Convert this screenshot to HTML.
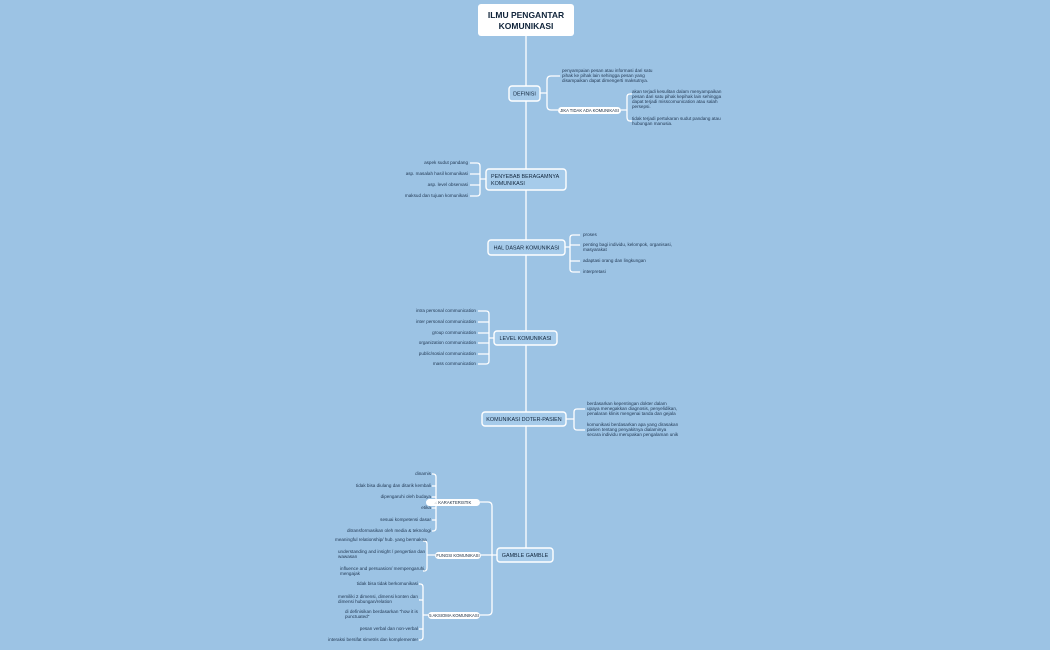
<!DOCTYPE html>
<html><head><meta charset="utf-8"><style>
html,body{margin:0;padding:0;background:#9cc3e4;}
svg{display:block;font-family:"Liberation Sans",sans-serif;}
.t{font-size:4.6px;fill:#1f3550;}
.n{font-size:5.4px;fill:#10243a;}
.p{font-size:4.2px;fill:#10243a;}
.l{fill:none;stroke:#fff;stroke-width:1.3;}
.box{fill:#a6cbea;stroke:#fff;stroke-width:1.4;}
</style></head><body>
<svg width="1050" height="650" viewBox="0 0 1050 650">
<path class="l" d="M526 36V548"/>
<rect x="478" y="4" width="96" height="32" rx="3" fill="#fff"/>
<text x="526" y="18" text-anchor="middle" font-size="8.5" font-weight="600" fill="#10243a">ILMU PENGANTAR</text>
<text x="526" y="29" text-anchor="middle" font-size="8.5" font-weight="600" fill="#10243a">KOMUNIKASI</text>

<path class="l" d="M540 93H547M547 93V80Q547 76 551 76H560M547 93V106Q547 110 551 110H558"/>
<rect class="box" x="509" y="86" width="31" height="15" rx="3"/>
<text class="n" x="524.5" y="95.5" text-anchor="middle">DEFINISI</text>
<text class="t" x="562" y="72">penyampaian pesan atau informasi dari satu</text>
<text class="t" x="562" y="77">pihak ke pihak lain sehingga pesan yang</text>
<text class="t" x="562" y="82">disampaikan dapat dimengerti maksutnya.</text>
<rect x="558" y="107" width="63" height="7" rx="3.5" fill="#fff"/>
<text class="p" x="589.5" y="112.2" text-anchor="middle">JIKA TIDAK ADA KOMUNIKASI</text>
<path class="l" d="M621 110H627M627 110V97Q627 94 630 94H632M627 110V117Q627 121 630 121H632"/>
<text class="t" x="632" y="93">akan terjadi kesulitan dalam menyampaikan</text>
<text class="t" x="632" y="98">pesan dari satu pihak kepihak lain sehingga</text>
<text class="t" x="632" y="103">dapat terjadi misscomunication atau salah</text>
<text class="t" x="632" y="108">persepsi.</text>
<text class="t" x="632" y="120">tidak terjadi pertukaran sudut pandang atau</text>
<text class="t" x="632" y="125">hubungan manusia.</text>

<path class="l" d="M486 179H480M480 179V166Q480 163 477 163H470M480 179V193Q480 196 477 196H470M470 174H480M470 185H480"/>
<rect class="box" x="486" y="169" width="80" height="21" rx="3"/>
<text class="n" x="491" y="178">PENYEBAB BERAGAMNYA</text>
<text class="n" x="491" y="185">KOMUNIKASI</text>
<text class="t" x="468" y="164" text-anchor="end">aspek sudut pandang</text>
<text class="t" x="468" y="175" text-anchor="end">asp. masalah hasil komunikasi</text>
<text class="t" x="468" y="186" text-anchor="end">asp. level observasi</text>
<text class="t" x="468" y="197" text-anchor="end">maksud dan tujuan komunikasi</text>

<path class="l" d="M565 247H570M570 247V238Q570 235 573 235H580M570 247V269Q570 272 573 272H580M570 245H580M570 261H580"/>
<rect class="box" x="488" y="240" width="77" height="15" rx="3"/>
<text class="n" x="526.5" y="249.5" text-anchor="middle">HAL DASAR KOMUNIKASI</text>
<text class="t" x="583" y="236">proses</text>
<text class="t" x="583" y="246">penting bagi individu, kelompok, organisasi,</text>
<text class="t" x="583" y="251">masyarakat</text>
<text class="t" x="583" y="262">adaptasi orang dan lingkungan</text>
<text class="t" x="583" y="273">interpretasi</text>

<path class="l" d="M494 338H489M489 338V314Q489 311 486 311H478M489 338V361Q489 364 486 364H478M478 322H489M478 333H489M478 343H489M478 354H489"/>
<rect class="box" x="494" y="331" width="63" height="14" rx="3"/>
<text class="n" x="525.5" y="340" text-anchor="middle">LEVEL KOMUNIKASI</text>
<text class="t" x="476" y="312" text-anchor="end">intra personal communication</text>
<text class="t" x="476" y="323" text-anchor="end">inter personal communication</text>
<text class="t" x="476" y="334" text-anchor="end">group communication</text>
<text class="t" x="476" y="344" text-anchor="end">organization communication</text>
<text class="t" x="476" y="355" text-anchor="end">public/sosial communication</text>
<text class="t" x="476" y="365" text-anchor="end">mass communication</text>

<path class="l" d="M566 419H574M574 419V412Q574 409 577 409H585M574 419V427Q574 430 577 430H585"/>
<rect class="box" x="482" y="412" width="84" height="14" rx="3"/>
<text class="n" x="524" y="421" text-anchor="middle">KOMUNIKASI DOTER-PASIEN</text>
<text class="t" x="587" y="405">berdasarkan kepentingan dokter dalam</text>
<text class="t" x="587" y="410">upaya menegakkan diagnosis, penyelidikan,</text>
<text class="t" x="587" y="415">penalaran klinis mengenai tanda dan gejala</text>
<text class="t" x="587" y="426">komunikasi berdasarkan apa yang dirasakan</text>
<text class="t" x="587" y="431">pasien tentang penyakitnya dialaminya</text>
<text class="t" x="587" y="436">secara individu merupakan pengalaman unik</text>

<path class="l" d="M497 555H492M492 555V506Q492 502 488 502H480M492 555V611Q492 615 488 615H480M481 555H492"/>
<rect class="box" x="497" y="548" width="56" height="14" rx="3"/>
<text class="n" x="525" y="557" text-anchor="middle">GAMBLE GAMBLE</text>

<rect x="426" y="499" width="54" height="7" rx="3.5" fill="#fff"/>
<text class="p" x="453" y="504.2" text-anchor="middle">4 KARAKTERISTIK</text>
<path class="l" d="M426 502H436M436 502V477Q436 474 433 474H432M436 502V528Q436 531 433 531H432M432 486H436M432 497H436M432 508H436M432 520H436"/>
<text class="t" x="431" y="475" text-anchor="end">dinamis</text>
<text class="t" x="431" y="487" text-anchor="end">tidak bisa diulang dan ditarik kembali</text>
<text class="t" x="431" y="498" text-anchor="end">dipengaruhi oleh budaya</text>
<text class="t" x="431" y="509" text-anchor="end">etika</text>
<text class="t" x="431" y="521" text-anchor="end">sesuai kompetensi dasar</text>
<text class="t" x="431" y="532" text-anchor="end">ditransformasikan oleh media &amp; teknologi</text>

<rect x="435" y="552" width="46" height="7" rx="3.5" fill="#fff"/>
<text class="p" x="458" y="557.2" text-anchor="middle">FUNGSI KOMUNIKASI</text>
<path class="l" d="M435 555H427M427 555V544Q427 541 424 541H423M427 555V568Q427 571 424 571H423"/>
<text class="t" x="335" y="541">meaningful relationship/ hub. yang bermakna</text>
<text class="t" x="338" y="553">understanding and insight / pengertian dan</text>
<text class="t" x="338" y="558">wawasan</text>
<text class="t" x="340" y="570">influence and persuasion/ mempengaruhi,</text>
<text class="t" x="340" y="575">mengajak</text>

<rect x="428" y="612" width="52" height="7" rx="3.5" fill="#fff"/>
<text class="p" x="454" y="617.2" text-anchor="middle">5 AKSIOMA KOMUNIKASI</text>
<path class="l" d="M428 615H423M423 615V587Q423 584 420 584H419M423 615V637Q423 640 420 640H419M419 600H423M419 629H423"/>
<text class="t" x="418" y="585" text-anchor="end">tidak bisa tidak berkomunikasi</text>
<text class="t" x="338" y="598">memiliki 2 dimensi, dimensi konten dan</text>
<text class="t" x="338" y="603">dimensi hubungan/relation</text>
<text class="t" x="345" y="613">di definisikan berdasarkan "how it is</text>
<text class="t" x="345" y="618">punctuated"</text>
<text class="t" x="418" y="630" text-anchor="end">pesan verbal dan non-verbal</text>
<text class="t" x="418" y="641" text-anchor="end">interaksi bersifat simetris dan komplementer</text>
</svg>
</body></html>
